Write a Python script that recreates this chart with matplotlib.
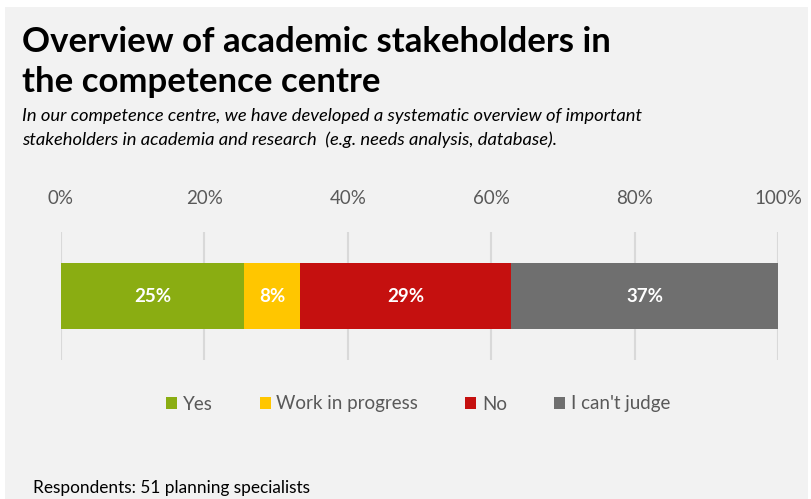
import matplotlib
matplotlib.use("Agg")
import matplotlib.pyplot as plt
from matplotlib.patches import Rectangle

plt.rcParams['font.family'] = ['Lato', 'DejaVu Sans']

# survey answers, counts out of 51 respondents
answers = ["Yes", "Work in progress", "No", "I can't judge"]
counts = [13, 4, 15, 19]
colors = ["#8aad12", "#ffc600", "#c5100f", "#6f6f6f"]
ticks = [0, 20, 40, 60, 80, 100]
tick_labels = ["0%", "20%", "40%", "60%", "80%", "100%"]

total = sum(counts)
shares = [c / total * 100 for c in counts]

W, H = 811, 499
fig = plt.figure(figsize=(W / 100, H / 100), dpi=100)
fig.patch.set_facecolor("white")
fig.patches.append(Rectangle((5 / W, 0), (808 - 5) / W, (H - 7) / H,
                             transform=fig.transFigure, facecolor="#f2f2f2",
                             edgecolor="none", zorder=-5))

ax = fig.add_axes([61 / W, 139 / H, 717 / W, 128 / H])
ax.set_facecolor("none")
ax.set_zorder(2)

left = 0
for name, share, col in zip(answers, shares, colors):
    ax.barh(0, share, left=left, height=1.02, color=col, label=name, zorder=3)
    ax.text(left + share / 2, 0, f"{share:.0f}%", ha="center", va="center",
            color="white", fontsize=13.5, fontweight="bold", zorder=4)
    left += share

ax.set_xlim(0, 100)
ax.set_ylim(-1, 1)
ax.set_yticks([])
ax.set_xticks(ticks)
ax.set_xticklabels(tick_labels)
ax.xaxis.tick_top()
ax.tick_params(axis="x", length=0, pad=18, labelsize=13.5, labelcolor="#595959")
ax.grid(axis="x", color="#d9d9d9", linewidth=1.5, zorder=0)
for s in ax.spines.values():
    s.set_visible(False)

fig.legend(loc="center", bbox_to_anchor=(418 / W, 1 - 404 / H), ncol=4,
           frameon=False, fontsize=13.5, labelcolor="#595959",
           handlelength=0.6, handleheight=0.6, handletextpad=0.3,
           columnspacing=2.5)

fig.text(22 / W, 1 - 42 / H, "Overview of academic stakeholders in",
         fontsize=25, fontweight="bold", va="center", color="black")
fig.text(22 / W, 1 - 82 / H, "the competence centre",
         fontsize=25, fontweight="bold", va="center", color="black")
fig.text(22 / W, 1 - 116 / H,
         "In our competence centre, we have developed a systematic overview of important",
         fontsize=13.2, style="italic", va="center", color="black")
fig.text(22 / W, 1 - 140 / H,
         "stakeholders in academia and research  (e.g. needs analysis, database).",
         fontsize=13.2, style="italic", va="center", color="black")
fig.text(33 / W, 1 - 488 / H, "Respondents: 51 planning specialists",
         fontsize=12.4, va="center", color="black")

fig.savefig("out.png", dpi=100)
